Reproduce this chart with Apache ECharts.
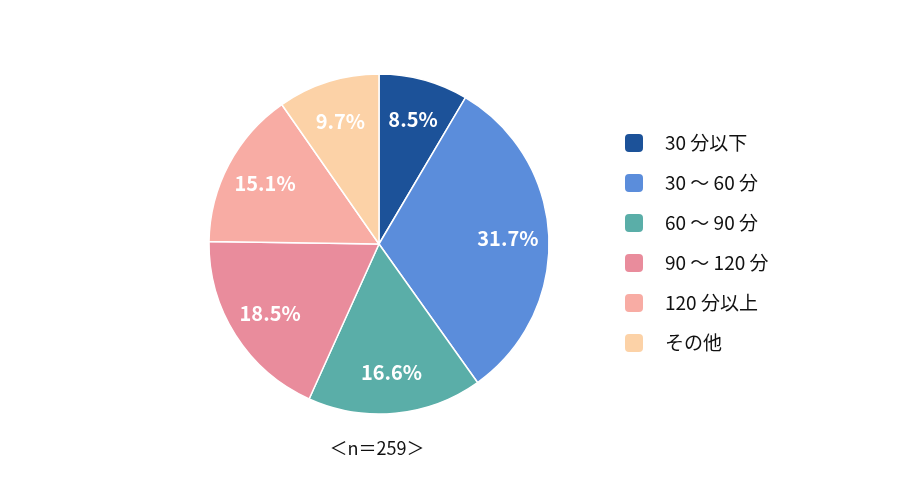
<!DOCTYPE html>
<html><head><meta charset="utf-8">
<script src="https://cdn.jsdelivr.net/npm/echarts@6/dist/echarts.min.js"></script>
<style>html,body{margin:0;padding:0;background:#fff}#c{width:900px;height:503px}</style>
</head><body><div id="c"></div>
<script>
const categories = ['30 分以下', '30 〜 60 分', '60 〜 90 分', '90 〜 120 分', '120 分以上', 'その他'];
const values = [8.5, 31.7, 16.6, 18.5, 15.1, 9.7];
const colors = ['#1c5299', '#5b8ddb', '#5aaea8', '#e98c9c', '#f8aca4', '#fcd2a7'];
const sampleLabel = '＜n＝259＞';

const font = '"Noto Sans CJK JP", "Noto Sans", sans-serif';
const data = categories.map((c, i) => ({ name: c, value: values[i], itemStyle: { color: colors[i] } }));
const chart = echarts.init(document.getElementById('c'));
chart.setOption({
  animation: false,
  textStyle: { fontFamily: font },
  title: {
    text: sampleLabel, left: 377, top: 439, textAlign: 'center', padding: 0,
    textStyle: { fontFamily: font, fontSize: 18, lineHeight: 18, fontWeight: 'normal', color: '#111' }
  },
  legend: {
    orient: 'vertical', left: 623, top: 132, padding: 0,
    itemWidth: 20, itemHeight: 20, itemGap: 18,
    icon: 'roundRect',
    data: categories,
    textStyle: { fontFamily: font, fontSize: 19, lineHeight: 20, color: '#111', padding: [0, 0, 0, 16] }
  },
  series: [{
    type: 'pie', center: [379, 244], radius: [0, 170],
    startAngle: 90, clockwise: true,
    itemStyle: { borderColor: '#fff', borderWidth: 1.5 },
    label: { show: false }, labelLine: { show: false },
    emphasis: { disabled: true },
    data: data
  }, {
    type: 'pie', center: [379, 244], radius: [82, 170],
    startAngle: 90, clockwise: true, silent: true,
    itemStyle: { color: 'rgba(0,0,0,0)', borderWidth: 0 },
    label: { show: true, position: 'inside', formatter: p => p.value.toFixed(1) + '%',
      color: '#fff', fontSize: 20, fontWeight: 'bold', fontFamily: font },
    labelLine: { show: false },
    data: categories.map((c, i) => ({ name: c, value: values[i] }))
  }]
});
</script></body></html>
